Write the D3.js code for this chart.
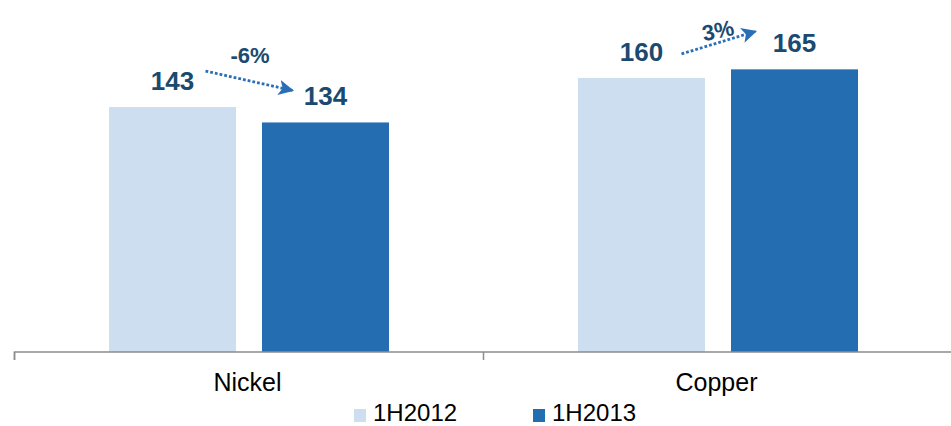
<!DOCTYPE html>
<html><head><meta charset="utf-8">
<script src="https://cdn.jsdelivr.net/npm/d3@7"></script>
<style>
html,body{margin:0;padding:0;background:#fff;}
svg{display:block;font-family:"Liberation Sans",Arial,sans-serif;}
</style></head>
<body>
<svg id="chart" width="951" height="426"></svg>
<script>
const categories = ["Nickel", "Copper"];
const seriesNames = ["1H2012", "1H2013"];
const values1H2012 = [143, 160];
const values1H2013 = [134, 165];
const changeLabels = ["-6%", "3%"];
const colors = ["#cddef0", "#246db0"];

const svg = d3.select("#chart");
const baseline = 352;

const x0 = d3.scaleBand().domain(categories).range([14, 952]).padding(0);
const x1 = d3.scaleBand().domain(seriesNames).range([95, 95 + 280]).paddingInner(26/153).paddingOuter(0);
const y = d3.scaleLinear().domain([0, 200]).range([baseline, 9.4]);

const data = categories.map((c, i) => ({
  cat: c,
  vals: [{s: seriesNames[0], v: values1H2012[i]}, {s: seriesNames[1], v: values1H2013[i]}]
}));

// bars
const g = svg.append("g");
const groups = g.selectAll("g.grp").data(data).join("g")
  .attr("transform", d => `translate(${x0(d.cat)},0)`);
groups.selectAll("rect").data(d => d.vals).join("rect")
  .attr("x", d => x1(d.s))
  .attr("width", x1.bandwidth())
  .attr("y", d => y(d.v))
  .attr("height", d => baseline - y(d.v))
  .attr("fill", (d, i) => colors[i]);

// value labels
groups.selectAll("text.val").data(d => d.vals).join("text")
  .attr("class", "val")
  .attr("x", d => x1(d.s) + x1.bandwidth()/2)
  .attr("y", d => y(d.v) - 17)
  .attr("text-anchor", "middle")
  .attr("font-size", 26)
  .attr("font-weight", "bold")
  .attr("fill", "#1b4a70")
  .text(d => d.v);

// axis
const axis = d3.axisBottom(x0).tickSize(8).tickFormat("");
const axG = svg.append("g").attr("transform", `translate(0,${baseline})`).call(axis);
axG.select(".domain").attr("stroke", "#8c8c8c").attr("stroke-width", 1.5)
  .attr("d", `M14.5,8V0H952`);
axG.selectAll(".tick").remove();
const bounds = categories.map(c => x0(c));
axG.selectAll("line.b").data(bounds).join("line")
  .attr("x1", d => Math.round(d) + 0.5).attr("x2", d => Math.round(d) + 0.5)
  .attr("y1", 0).attr("y2", 8)
  .attr("stroke", "#8c8c8c").attr("stroke-width", 1.5);

// category labels
svg.selectAll("text.cat").data(categories).join("text")
  .attr("class", "cat")
  .attr("x", d => x0(d) + x0.bandwidth()/2 - 1)
  .attr("y", 391)
  .attr("text-anchor", "middle")
  .attr("font-size", 25)
  .attr("fill", "#000")
  .text(d => d);

// arrows
const defs = svg.append("defs");
defs.append("marker").attr("id", "ah")
  .attr("viewBox", "0 0 10 10").attr("refX", 9).attr("refY", 5)
  .attr("markerWidth", 5.5).attr("markerHeight", 5.5)
  .attr("markerUnits", "strokeWidth")
  .attr("orient", "auto")
  .append("path").attr("d", "M0,0L10,5L0,10L2.5,5Z").attr("fill", "#2a6fb5");

const arrowOffsets = [
  {sx: 33, sy: -19, ex: -33, ey: -15, ty: 63, rot: 0},
  {sx: 40, sy: -7, ex: -39, ey: -21, ty: 38, rot: -12}
];
data.forEach((d, i) => {
  const ax = x0(d.cat) + x1(seriesNames[0]) + x1.bandwidth()/2;
  const ay = y(d.vals[0].v) - 17;
  const bx = x0(d.cat) + x1(seriesNames[1]) + x1.bandwidth()/2;
  const by = y(d.vals[1].v) - 17;
  const o = arrowOffsets[i];
  const p1 = [ax + o.sx, ay + o.sy], p2 = [bx + o.ex, by + o.ey];
  svg.append("line")
    .attr("x1", p1[0]).attr("y1", p1[1]).attr("x2", p2[0]).attr("y2", p2[1])
    .attr("stroke", "#2a6fb5").attr("stroke-width", 2.8)
    .attr("stroke-dasharray", "2.8,2")
    .attr("marker-end", "url(#ah)");
  const mx = (p1[0] + p2[0]) / 2 + 1;
  svg.append("text")
    .attr("transform", `translate(${mx},${o.ty}) rotate(${o.rot})`)
    .attr("text-anchor", "middle")
    .attr("font-size", 22)
    .attr("font-weight", "bold")
    .attr("fill", "#1b4a70")
    .text(changeLabels[i]);
});

// legend
const legendX = [354, 533];
const lg = svg.selectAll("g.leg").data(seriesNames).join("g")
  .attr("transform", (d, i) => `translate(${legendX[i]},0)`);
lg.append("rect").attr("x", 0).attr("y", 409).attr("width", 12).attr("height", 13)
  .attr("fill", (d, i) => colors[i]);
lg.append("text").attr("x", 19).attr("y", 421)
  .attr("font-size", 24).attr("fill", "#000").text(d => d);
</script>
</body></html>
